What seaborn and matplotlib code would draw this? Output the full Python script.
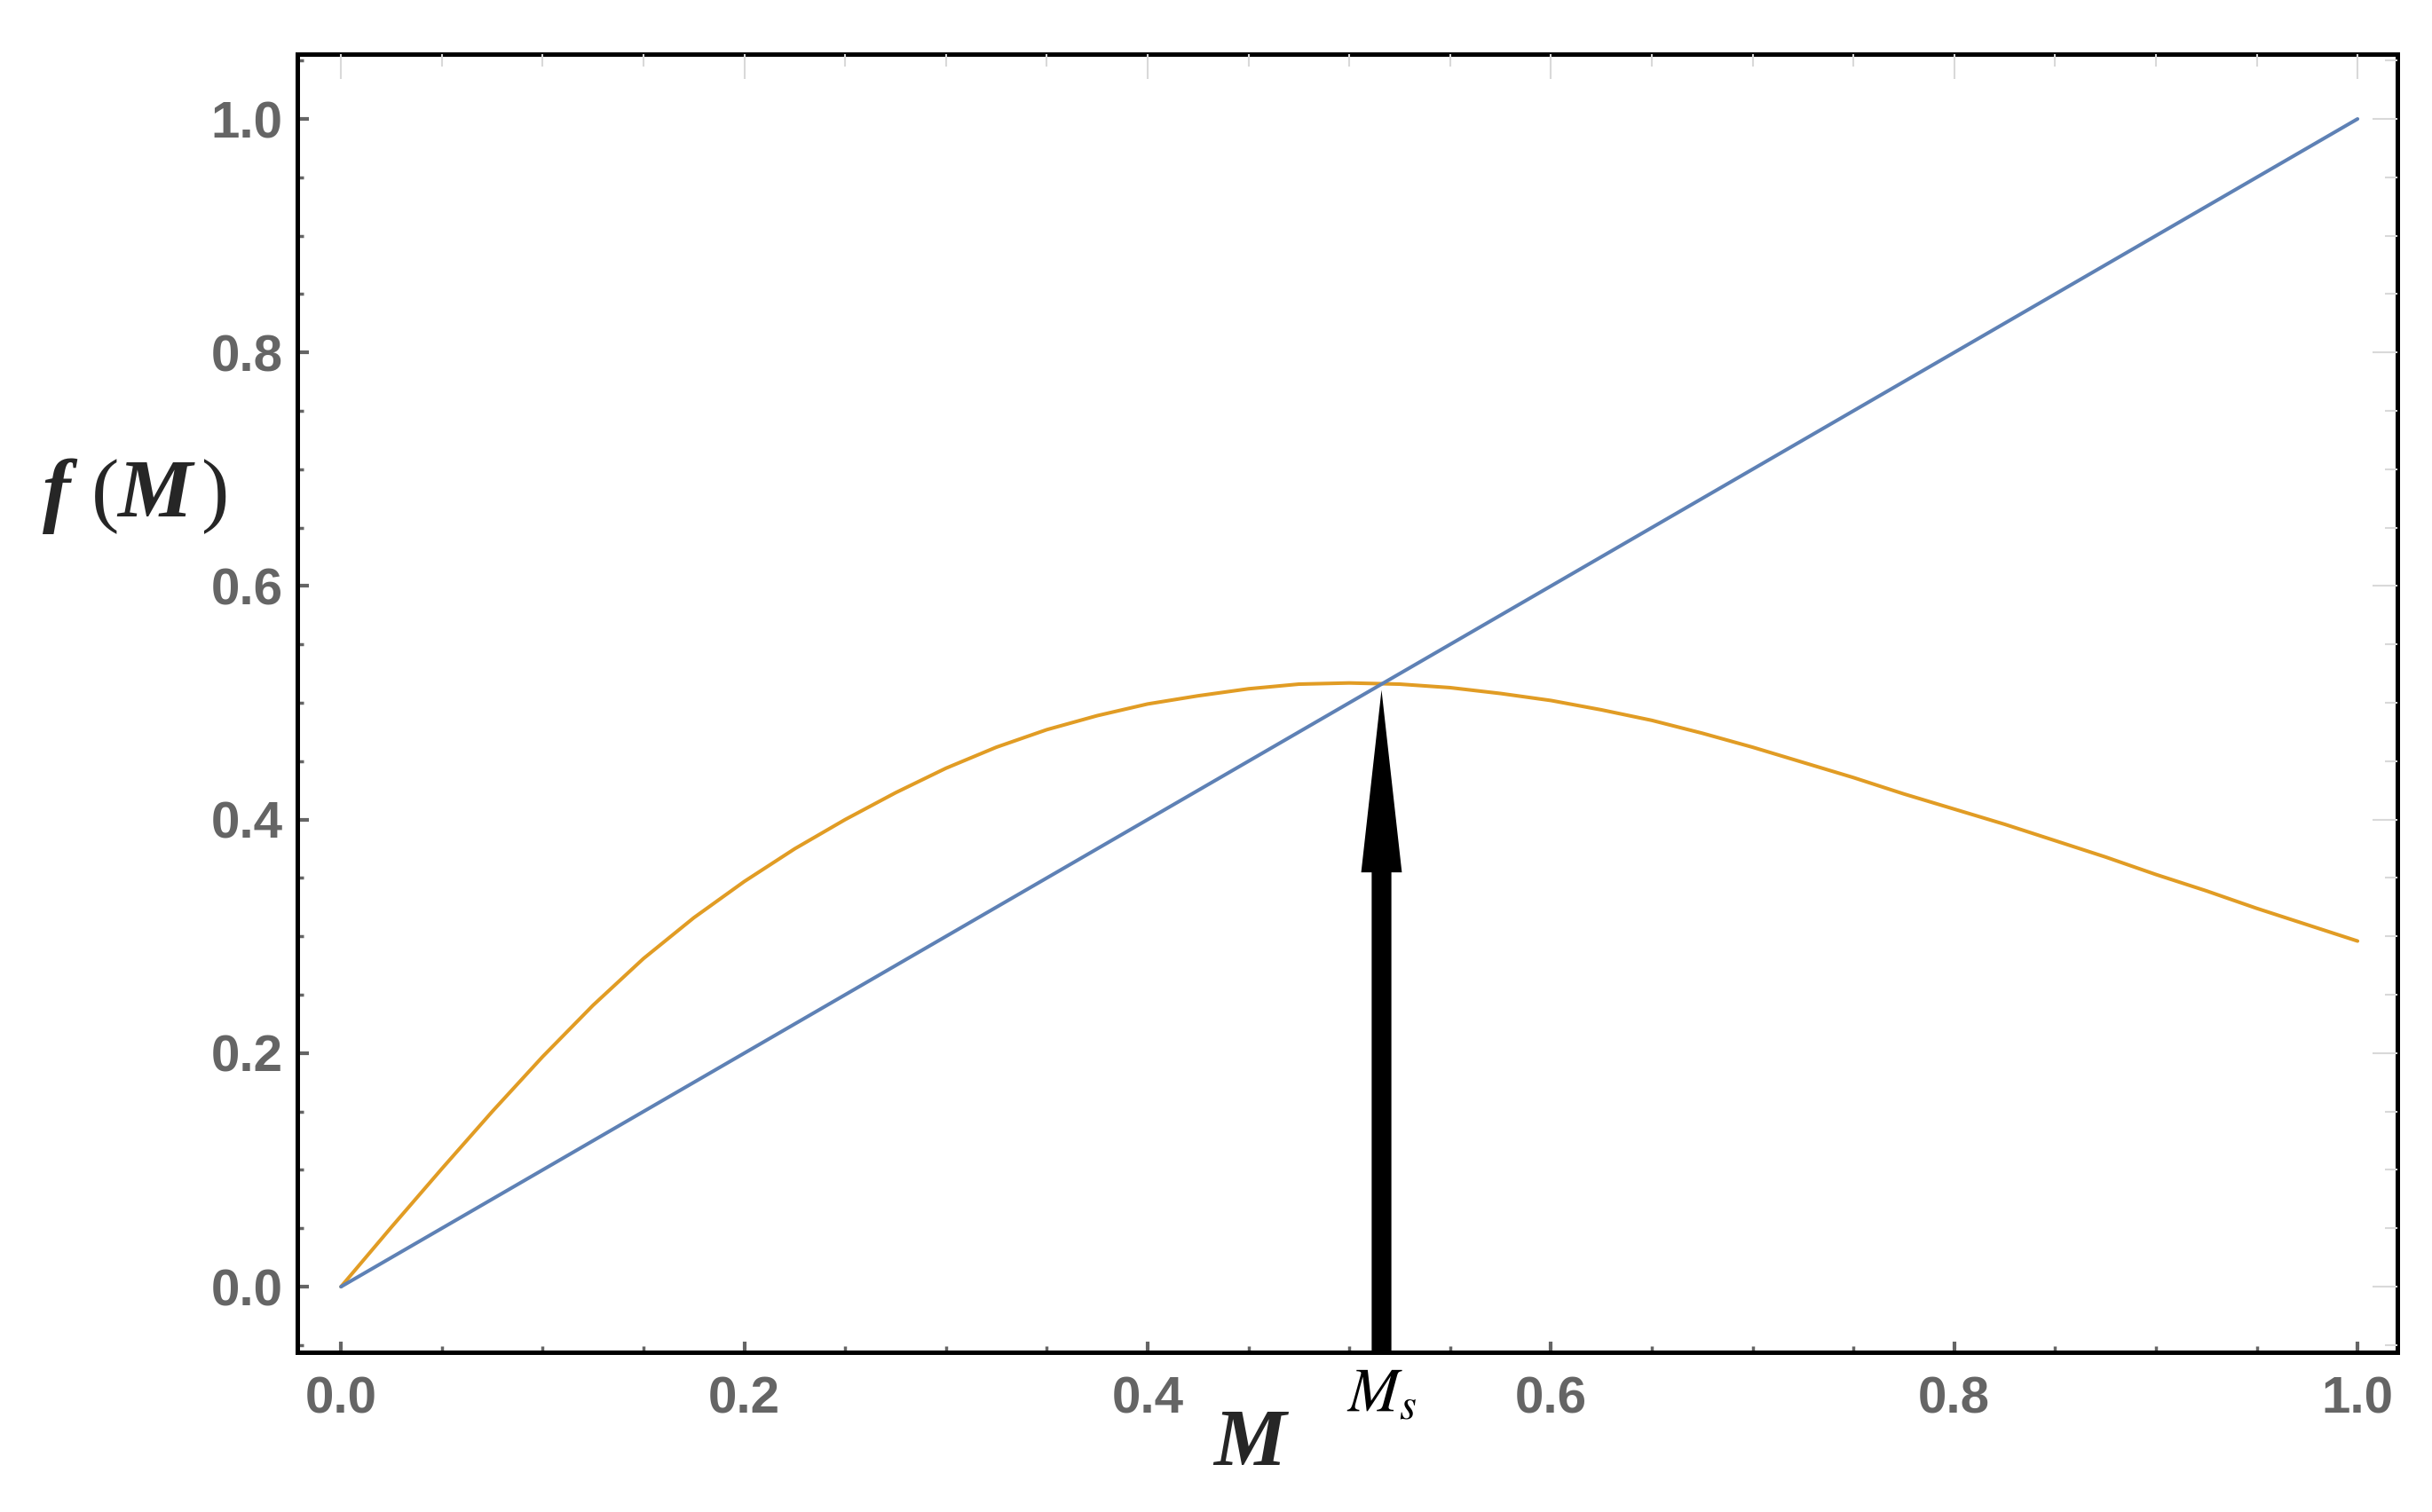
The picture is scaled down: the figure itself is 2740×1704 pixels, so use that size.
import numpy as np
import pandas as pd
import matplotlib
matplotlib.use("Agg")
import matplotlib.pyplot as plt
import seaborn as sns
from matplotlib.ticker import MultipleLocator, FixedLocator
from matplotlib.patches import FancyArrowPatch

# ---- data ----
M_values = [0.000, 0.025, 0.050, 0.075, 0.100, 0.125, 0.150, 0.175, 0.200, 0.225,
            0.250, 0.275, 0.300, 0.325, 0.350, 0.375, 0.400, 0.425, 0.450, 0.475,
            0.500, 0.525, 0.550, 0.575, 0.600, 0.625, 0.650, 0.675, 0.700, 0.725,
            0.750, 0.775, 0.800, 0.825, 0.850, 0.875, 0.900, 0.925, 0.950, 0.975,
            1.000]
f_values = [0.000, 0.051, 0.101, 0.150, 0.197, 0.241, 0.281, 0.316, 0.347, 0.375,
            0.400, 0.423, 0.444, 0.462, 0.477, 0.489, 0.499, 0.506, 0.512, 0.516,
            0.517, 0.516, 0.513, 0.508, 0.502, 0.494, 0.485, 0.474, 0.462, 0.449,
            0.436, 0.422, 0.409, 0.396, 0.382, 0.368, 0.353, 0.339, 0.324, 0.310,
            0.296]
line_M = [0.0, 1.0]
line_f = [0.0, 1.0]
Ms = 0.516
arrow_tip = 0.511
x_ticks = [0.0, 0.2, 0.4, 0.6, 0.8, 1.0]
y_ticks = [0.0, 0.2, 0.4, 0.6, 0.8, 1.0]
x_ticklabels = ["0.0", "0.2", "0.4", "0.6", "0.8", "1.0"]
y_ticklabels = ["0.0", "0.2", "0.4", "0.6", "0.8", "1.0"]

BLUE = "#5E81B5"
ORANGE = "#E19C24"
GREY = "#656565"
LIGHT = "#d9d9d9"
XLIM = (-0.0216, 1.0198)
YLIM = (-0.0562, 1.0555)

sns.set_style("white")
plt.rcParams["font.family"] = ["Liberation Sans", "DejaVu Sans"]
plt.rcParams["mathtext.fontset"] = "stix"

fig = plt.figure(figsize=(27.4, 17.04), dpi=100)
ax = fig.add_axes([0.1223, 0.1056, 0.8635, 0.8586])

df_curve = pd.DataFrame({"M": M_values, "f": f_values})
df_line = pd.DataFrame({"M": line_M, "f": line_f})
sns.lineplot(data=df_curve, x="M", y="f", ax=ax, color=ORANGE, lw=2.9, sort=False)
sns.lineplot(data=df_line, x="M", y="f", ax=ax, color=BLUE, lw=2.9, sort=False)

ax.set_xlim(*XLIM)
ax.set_ylim(*YLIM)
ax.set_xlabel("")
ax.set_ylabel("")

# faint ticks on top and right via twin axes
axt = ax.twiny()
axr = ax.twinx()
axt.set_xlim(*XLIM)
axr.set_ylim(*YLIM)
axt.xaxis.set_major_locator(FixedLocator(x_ticks))
axt.xaxis.set_minor_locator(MultipleLocator(0.05))
axr.yaxis.set_major_locator(FixedLocator(y_ticks))
axr.yaxis.set_minor_locator(MultipleLocator(0.05))
axt.tick_params(axis="x", which="major", direction="in", length=20, width=1.5,
                color=LIGHT, labeltop=False, top=True, bottom=False)
axt.tick_params(axis="x", which="minor", direction="in", length=10, width=1.5,
                color=LIGHT, top=True, bottom=False)
axr.tick_params(axis="y", which="major", direction="in", length=20, width=1.5,
                color=LIGHT, labelright=False, right=True, left=False)
axr.tick_params(axis="y", which="minor", direction="in", length=10, width=1.5,
                color=LIGHT, right=True, left=False)
for a in (axt, axr):
    for s in a.spines.values():
        s.set_visible(False)

for s in ax.spines.values():
    s.set_color("black")
    s.set_linewidth(3.6)
    s.set_visible(True)
    s.set_zorder(10)

ax.xaxis.set_major_locator(FixedLocator(x_ticks))
ax.yaxis.set_major_locator(FixedLocator(y_ticks))
ax.set_xticklabels(x_ticklabels)
ax.set_yticklabels(y_ticklabels)
ax.xaxis.set_minor_locator(MultipleLocator(0.05))
ax.yaxis.set_minor_locator(MultipleLocator(0.05))

ax.tick_params(axis="both", which="major", direction="in", length=9, width=3,
               color=GREY, labelsize=42, labelcolor=GREY,
               top=False, right=False, bottom=True, left=True)
ax.tick_params(axis="both", which="minor", direction="in", length=5, width=2.5,
               color=GREY, top=False, right=False, bottom=True, left=True)
ax.tick_params(axis="x", which="major", pad=19)
ax.tick_params(axis="y", which="major", pad=12)
for lab in ax.get_xticklabels() + ax.get_yticklabels():
    lab.set_fontweight("bold")

# arrow pointing at M_s
arrow = FancyArrowPatch((Ms, YLIM[0]), (Ms, arrow_tip),
                        arrowstyle="simple,head_length=148,head_width=33,tail_width=16",
                        mutation_scale=1, fc="black", ec="black", lw=0,
                        shrinkA=0, shrinkB=0, zorder=5, clip_on=False)
ax.add_patch(arrow)

# M_s label under the axis
ax.text(Ms, -0.045, r"$M_s$", transform=ax.get_xaxis_transform(),
        ha="center", va="baseline", fontsize=50, color="black")

# axis labels
fig.text(0.514, 0.044, "M", ha="center", va="center", fontsize=66,
         family="Liberation Serif", style="italic", weight="bold")

W, H = 2740.0, 1704.0
base_y = 1 - 582 / H
fig.text(64 / W, base_y, "f", ha="center", va="baseline", fontsize=68,
         family="Liberation Serif", style="italic", weight="bold")
fig.text(119 / W, base_y, "(", ha="center", va="baseline", fontsize=68,
         family="Liberation Serif")
fig.text(174 / W, base_y, "M", ha="center", va="baseline", fontsize=68,
         family="Liberation Serif", style="italic", weight="bold")
fig.text(243 / W, base_y, ")", ha="center", va="baseline", fontsize=68,
         family="Liberation Serif")

fig.savefig("out.png", dpi=100, facecolor="white")
